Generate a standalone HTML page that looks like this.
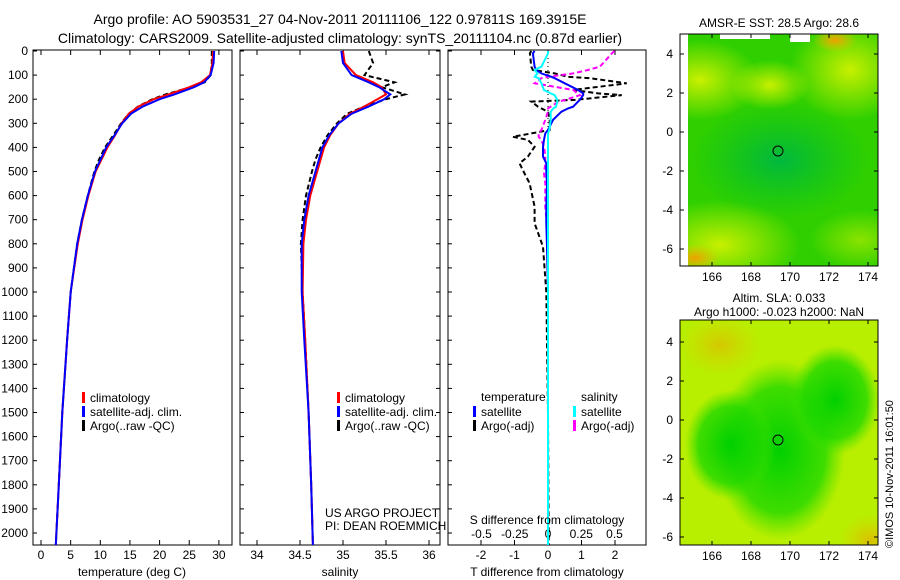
<!DOCTYPE html>
<html><head><meta charset="utf-8"><style>
body{margin:0;background:#fff;}
svg{display:block;font-family:"Liberation Sans",sans-serif;}
</style></head><body>
<svg id="fig" width="900" height="580" viewBox="0 0 900 580">
<defs>
<radialGradient id="y1" cx="50%" cy="50%" r="50%"><stop offset="0" stop-color="#c8f000"/><stop offset="1" stop-color="#c8f000" stop-opacity="0"/></radialGradient>
<radialGradient id="o1" cx="50%" cy="50%" r="50%"><stop offset="0" stop-color="#f0a000"/><stop offset="1" stop-color="#f0c000" stop-opacity="0"/></radialGradient>
<radialGradient id="d1" cx="50%" cy="50%" r="50%"><stop offset="0" stop-color="#00b840"/><stop offset="1" stop-color="#00c020" stop-opacity="0"/></radialGradient>
<radialGradient id="g2" cx="50%" cy="50%" r="50%"><stop offset="0" stop-color="#00d000"/><stop offset="0.7" stop-color="#20d800" stop-opacity="0.8"/><stop offset="1" stop-color="#40e000" stop-opacity="0"/></radialGradient>
<clipPath id="cm1"><rect x="680" y="34" width="198" height="232"/></clipPath>
<clipPath id="cm2"><rect x="680" y="320" width="198" height="225"/></clipPath>
</defs>
<text x="340" y="24" font-size="14" text-anchor="middle">Argo profile: AO 5903531_27 04-Nov-2011 20111106_122 0.97811S 169.3915E</text>
<text x="340" y="43" font-size="14" text-anchor="middle">Climatology: CARS2009. Satellite-adjusted climatology: synTS_20111104.nc (0.87d earlier)</text>

<g clip-path="url(#cm1)">
<rect x="680" y="34" width="198" height="232" fill="#30d000"/>
<ellipse cx="700" cy="80" rx="60" ry="40" fill="url(#y1)"/>
<ellipse cx="850" cy="70" rx="60" ry="50" fill="url(#y1)"/>
<ellipse cx="720" cy="245" rx="80" ry="45" fill="url(#y1)"/>
<ellipse cx="770" cy="85" rx="40" ry="25" fill="url(#y1)"/>
<ellipse cx="860" cy="240" rx="50" ry="30" fill="url(#y1)" opacity="0.6"/>
<ellipse cx="780" cy="160" rx="90" ry="60" fill="url(#d1)"/>
<ellipse cx="695" cy="258" rx="25" ry="14" fill="url(#o1)"/>
<ellipse cx="835" cy="40" rx="22" ry="12" fill="url(#o1)"/>
<rect x="680" y="34" width="8" height="232" fill="#fff"/>
<rect x="720" y="34" width="50" height="5" fill="#fff"/><rect x="790" y="34" width="20" height="8" fill="#fff"/>
</g>
<rect x="680" y="34" width="198" height="232" fill="none" stroke="#000"/>
<text x="779" y="27" font-size="12" text-anchor="middle">AMSR-E SST: 28.5 Argo: 28.6</text>
<circle cx="778" cy="151" r="5" fill="none" stroke="#000"/>

<g clip-path="url(#cm2)">
<rect x="680" y="320" width="198" height="225" fill="#b8ee00"/>
<ellipse cx="780" cy="450" rx="65" ry="90" fill="url(#g2)"/>
<ellipse cx="835" cy="400" rx="45" ry="55" fill="url(#g2)"/>
<ellipse cx="730" cy="445" rx="45" ry="55" fill="url(#g2)"/>
<ellipse cx="720" cy="345" rx="40" ry="30" fill="url(#o1)" opacity="0.5"/>
<ellipse cx="870" cy="540" rx="30" ry="25" fill="url(#o1)" opacity="0.6"/>
</g>
<rect x="680" y="320" width="198" height="225" fill="none" stroke="#000"/>
<text x="779" y="302" font-size="12" text-anchor="middle">Altim. SLA: 0.033</text>
<text x="779" y="316" font-size="12" text-anchor="middle">Argo h1000: -0.023 h2000: NaN</text>
<circle cx="778" cy="440" r="5" fill="none" stroke="#000"/>
<text transform="translate(893,548) rotate(-90)" font-size="11">©IMOS 10-Nov-2011 16:01:50</text>

<text x="325" y="517" font-size="12">US ARGO PROJECT</text>
<text x="325" y="530" font-size="12">PI: DEAN ROEMMICH</text>
<g id="plots"></g>
</svg>
<script>
// ---------- data ----------
const depthTicks=[0,100,200,300,400,500,600,700,800,900,1000,1100,1200,1300,1400,1500,1600,1700,1800,1900,2000];
const tempTicks=[0,5,10,15,20,25,30];
const salTicks=[34,34.5,35,35.5,36];
const tdiffTicks=[-2,-1,0,1,2];
const sdiffTicks=[-0.5,-0.25,0,0.25,0.5];
const sdiffLabels=["-0.5","-0.25","0","0.25","0.5"];
const lonTicks=[166,168,170,172,174];
const latTicks=[4,2,0,-2,-4,-6];

const profDepth=[0,50,100,130,150,180,200,230,260,300,350,400,500,600,700,800,1000,1200,1500,1800,2050];
const tempClim=[29,28.9,28.5,27,25,21.5,19,16.5,14.8,13.6,12.5,11.2,9.2,8,7,6.2,5,4.4,3.6,3,2.5];
const tempSat=[29.2,29.1,28.6,27.5,25.8,22.5,20,17.2,15.2,13.7,12.4,11,9.1,7.9,6.9,6.1,5,4.4,3.6,3,2.5];
const argoDepth=[0,50,100,130,150,180,200,230,260,300,350,400,450,500,600,700,800,1000,1200,1500,1800,2050];
const tempArgo=[28.8,28.8,28.6,27.6,25.3,21,18.8,16.4,14.8,13.5,12.2,10.8,9.8,9.0,7.9,6.9,6.1,5,4.4,3.6,3,2.5];
const salClim=[35,35.02,35.15,35.35,35.45,35.5,35.4,35.25,35.08,34.95,34.85,34.78,34.7,34.62,34.57,34.54,34.53,34.56,34.6,34.63,34.65];
const salSat=[34.98,35.0,35.1,35.3,35.42,35.55,35.48,35.3,35.1,34.95,34.84,34.76,34.68,34.6,34.55,34.52,34.52,34.55,34.6,34.63,34.65];
const salArgo=[35.3,35.35,35.25,35.6,35.45,35.72,35.5,35.25,35.05,34.93,34.82,34.74,34.68,34.64,34.57,34.53,34.51,34.53,34.56,34.6,34.63,34.65];

const dDepth=[0,10,65,79,93,107,113,134,162,176,183,203,210,231,238,252,286,328,342,356,369,397,438,466,508,549,646,715,812,1000,1500,2050];
const dTsat=[-0.4,-0.45,-0.4,-0.35,-0.2,0.1,0.2,0.5,0.9,1.05,1.05,0.95,0.9,0.75,0.6,0.4,0.15,0,-0.08,-0.1,-0.12,-0.15,-0.15,-0.05,-0.05,-0.03,-0.05,-0.05,-0.03,0,0,0];
const dTargo=[-0.5,-0.54,-0.5,-0.45,0.2,0.6,1.25,2.35,0.75,1.5,2.2,0.8,-0.5,-0.3,-0.2,0,0.05,0.05,-0.5,-1.05,-0.6,-0.4,-0.6,-0.85,-0.7,-0.55,-0.4,-0.4,-0.15,-0.05,0,0.02];
const dSsat=[0,0,-0.05,-0.1,-0.08,-0.1,-0.07,-0.05,-0.03,0.02,0.05,0.07,0.07,0.06,0.04,0.02,0.02,0.01,0,0,0,0,0,0,0,0,0,0,0,0,0,0];
const dSargo=[0.5,0.48,0.39,0.3,0.19,0.0,-0.05,-0.1,0.19,0.22,0.24,0.13,0.08,0.02,0,0,-0.02,-0.05,-0.07,-0.07,-0.05,-0.03,-0.02,-0.02,-0.03,-0.02,-0.02,-0.01,0,0,0,0];

// ---------- helpers ----------
const NS="http://www.w3.org/2000/svg";
const root=document.getElementById('plots');
function mk(tag,at,parent){const e=document.createElementNS(NS,tag);for(const k in at)e.setAttribute(k,at[k]);(parent||root).appendChild(e);return e;}
const yD=d=>51+d*0.241;
function panel(x0,x1,name){const r=mk('rect',{x:x0,y:50,width:x1-x0,height:495,fill:'none',stroke:'#000'});

}
function line(xs,ds,xf,color,dash,name,w){
 const pts=xs.map((v,i)=>xf(v).toFixed(1)+','+yD(ds[i]).toFixed(1)).join(' ');
 const p=mk('polyline',{points:pts,fill:'none',stroke:color,'stroke-width':w||2,'stroke-dasharray':dash||'none'});
 
 
}
function xticks(vals,labels,xf,y,name){
 vals.forEach((v,i)=>{const x=xf(v);
  mk('line',{x1:x,y1:545,x2:x,y2:540,stroke:'#000'});mk('line',{x1:x,y1:50,x2:x,y2:55,stroke:'#000'});
  const t=mk('text',{x:x,y:y,'font-size':12,'text-anchor':'middle'});t.textContent=labels[i];
  
  });
}
function legend(x,y,color,label,name){
 mk('rect',{x:x,y:y-10,width:3,height:11,fill:color});
 const t=mk('text',{x:x+8,y:y,'font-size':12});t.textContent=label;
 
 
}
const DASH='5,3';

// panel 1 temperature
const xT=v=>41+v*5.93;
panel(33,232,'temperature-plot-frame');
depthTicks.forEach(d=>{const y=yD(d);mk('line',{x1:33,y1:y,x2:37,y2:y,stroke:'#000'});
 const t=mk('text',{x:28,y:y+4,'font-size':12,'text-anchor':'end'});t.textContent=d;
 
 });
xticks(tempTicks,tempTicks.map(String),xT,559,'temperature');
line(tempArgo,argoDepth,xT,'#000',DASH,'temp-argo-line');
line(tempClim,profDepth,xT,'#f00',null,'temp-climatology-line');
line(tempSat,profDepth,xT,'#00f',null,'temp-satellite-line');
{const t=mk('text',{x:132,y:576,'font-size':12,'text-anchor':'middle'});t.textContent='temperature (deg C)';}
legend(82,402,'#f00','climatology','legend-climatology');
legend(82,416,'#00f','satellite-adj. clim.','legend-satellite');
legend(82,430,'#000','Argo(..raw -QC)','legend-argo');

// panel 2 salinity
const xS=v=>257+(v-34)*86;
panel(240,440,'salinity-plot-frame');
depthTicks.forEach(d=>{const y=yD(d);mk('line',{x1:240,y1:y,x2:244,y2:y,stroke:'#000'});mk('line',{x1:440,y1:y,x2:436,y2:y,stroke:'#000'});});
xticks(salTicks,salTicks.map(String),xS,559,'salinity');
line(salArgo,argoDepth,xS,'#000',DASH,'sal-argo-line');
line(salClim,profDepth,xS,'#f00',null,'sal-climatology-line');
line(salSat,profDepth,xS,'#00f',null,'sal-satellite-line');
{const t=mk('text',{x:340,y:576,'font-size':12,'text-anchor':'middle'});t.textContent='salinity';}
legend(337,402,'#f00','climatology','legend-climatology-2');
legend(337,416,'#00f','satellite-adj. clim.','legend-satellite-2');
legend(337,430,'#000','Argo(..raw -QC)','legend-argo-2');

// panel 3 differences
const xTd=v=>548+v*33.5, xSd=v=>548+v*133;
panel(448,646,'difference-plot-frame');
depthTicks.forEach(d=>{const y=yD(d);mk('line',{x1:448,y1:y,x2:452,y2:y,stroke:'#000'});});
xticks(tdiffTicks,tdiffTicks.map(String),xTd,559,'t-diff');
sdiffTicks.forEach((v,i)=>{const t=mk('text',{x:xSd(v),y:538,'font-size':12,'text-anchor':'middle'});t.textContent=sdiffLabels[i];});
mk('line',{x1:548,y1:50,x2:548,y2:130,stroke:'#000','stroke-dasharray':'1,3'});
line(dTargo,dDepth,xTd,'#000',DASH,'tdiff-argo-line');
line(dSargo,dDepth,xSd,'#f0f',DASH,'sdiff-argo-line');
line(dTsat,dDepth,xTd,'#00f',null,'tdiff-satellite-line');
line(dSsat,dDepth,xSd,'#0ff',null,'sdiff-satellite-line');
{const t=mk('text',{x:547,y:524,'font-size':12,'text-anchor':'middle'});t.textContent='S difference from climatology';}
{const t=mk('text',{x:547,y:576,'font-size':12,'text-anchor':'middle'});t.textContent='T difference from climatology';}
{const t=mk('text',{x:481,y:401,'font-size':12});t.textContent='temperature';}
{const t=mk('text',{x:581,y:401,'font-size':12});t.textContent='salinity';}
legend(473,416,'#00f','satellite','legend-t-satellite');
legend(473,430,'#000','Argo(-adj)','legend-t-argo');
legend(573,416,'#0ff','satellite','legend-s-satellite');
legend(573,430,'#f0f','Argo(-adj)','legend-s-argo');

// map axes
function mapAxes(top,bottom,latY,name){
 lonTicks.forEach(v=>{const x=712+(v-166)*19.5;mk('line',{x1:x,y1:bottom,x2:x,y2:bottom-4,stroke:'#000'});mk('line',{x1:x,y1:top,x2:x,y2:top+4,stroke:'#000'});
  const t=mk('text',{x:x,y:bottom+15,'font-size':12,'text-anchor':'middle'});t.textContent=v;});
 latTicks.forEach(v=>{const y=latY(v);mk('line',{x1:680,y1:y,x2:684,y2:y,stroke:'#000'});mk('line',{x1:878,y1:y,x2:874,y2:y,stroke:'#000'});
  const t=mk('text',{x:673,y:y+4,'font-size':12,'text-anchor':'end'});t.textContent=v;});
}
mapAxes(34,266,v=>54+(4-v)*19.5,'map-sst');
mapAxes(320,545,v=>342+(4-v)*19.5,'map-sla');
</script>
</body></html>
